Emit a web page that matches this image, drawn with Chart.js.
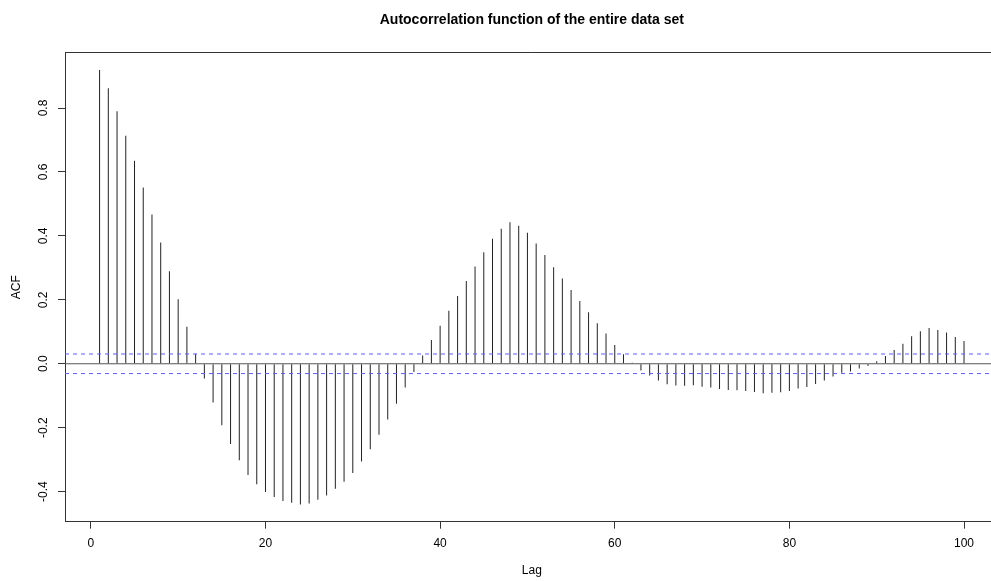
<!DOCTYPE html>
<html><head><meta charset="utf-8">
<script src="https://cdn.jsdelivr.net/npm/chart.js@4"></script>
<style>
html,body{margin:0;padding:0;overflow:hidden;background:#fff;width:991px;height:581px}
canvas{position:absolute;left:0;top:0}
</style></head>
<body>
<canvas id="c" width="1064" height="581"></canvas>
<script>
// ---- data ----
const lags = [1,2,3,4,5,6,7,8,9,10,11,12,13,14,15,16,17,18,19,20,
  21,22,23,24,25,26,27,28,29,30,31,32,33,34,35,36,37,38,39,40,
  41,42,43,44,45,46,47,48,49,50,51,52,53,54,55,56,57,58,59,60,
  61,62,63,64,65,66,67,68,69,70,71,72,73,74,75,76,77,78,79,80,
  81,82,83,84,85,86,87,88,89,90,91,92,93,94,95,96,97,98,99,100];
const acfValues = [0.919,0.862,0.790,0.713,0.635,0.551,0.467,0.379,0.289,0.202,
  0.116,0.031,-0.046,-0.121,-0.192,-0.251,-0.302,-0.348,-0.377,-0.401,
  -0.417,-0.429,-0.435,-0.440,-0.437,-0.425,-0.412,-0.391,-0.369,-0.342,
  -0.306,-0.267,-0.222,-0.174,-0.125,-0.074,-0.026,0.026,0.074,0.119,
  0.166,0.212,0.259,0.304,0.349,0.391,0.422,0.443,0.432,0.410,
  0.376,0.340,0.302,0.267,0.231,0.196,0.161,0.127,0.095,0.059,
  0.030,0.003,-0.021,-0.037,-0.052,-0.064,-0.068,-0.069,-0.067,-0.072,
  -0.074,-0.079,-0.082,-0.083,-0.085,-0.088,-0.092,-0.091,-0.089,-0.085,
  -0.077,-0.073,-0.063,-0.052,-0.040,-0.028,-0.024,-0.015,-0.007,0.008,
  0.024,0.043,0.063,0.086,0.102,0.112,0.106,0.098,0.084,0.071];
const ciLevel = 0.0306;
const xTicks = [0,20,40,60,80,100];
const yTicks = [-0.4,-0.2,0.0,0.2,0.4,0.6,0.8];
const xRange = [-2.96, 103.96];
const yRange = [-0.494, 0.973];
const titleText = 'Autocorrelation function of the entire data set';
const xLabel = 'Lag';
const yLabel = 'ACF';

const FONT = '"Liberation Sans", Arial, Helvetica, sans-serif';

const barData = lags.map((l,i)=>({x:l, y:acfValues[i]}));
const hLine = v => [{x:xRange[0], y:v},{x:xRange[1], y:v}];
// both confidence bounds in one dataset, separated by a gap
const ciData = [...hLine(ciLevel), {x:xRange[1], y:null}, ...hLine(-ciLevel)];

const boxPlugin = {
  id:'boxPlugin',
  afterDraw(chart){
    const {ctx, chartArea:a, scales:{y}} = chart;
    ctx.save();
    ctx.strokeStyle = '#333';
    ctx.lineWidth = 1;
    const ty = Math.floor(a.top) + 0.5;
    const rx = Math.floor(a.right) - 0.5;
    ctx.beginPath();
    ctx.moveTo(a.left, ty); ctx.lineTo(a.right, ty);
    ctx.moveTo(rx, a.top); ctx.lineTo(rx, a.bottom);
    ctx.stroke();
    ctx.font = '12px ' + FONT;
    ctx.fillStyle = '#000';
    ctx.textAlign = 'center';
    ctx.textBaseline = 'middle';
    yTicks.forEach(v=>{
      const py = y.getPixelForValue(v);
      ctx.save(); ctx.translate(44, py); ctx.rotate(-Math.PI/2);
      ctx.fillText(v.toFixed(1), 0, 0);
      ctx.restore();
    });
    ctx.restore();
  }
};

new Chart(document.getElementById('c'), {
  type:'bar',
  data: {
    datasets: [
      {type:'bar', data: barData, backgroundColor:'#222', borderWidth:0,
       barThickness:1, inflateAmount:0, grouped:false, order:2},
      {type:'line', data: hLine(0), borderColor:'#555', borderWidth:1,
       pointRadius:0, order:1},
      {type:'line', data: ciData, borderColor:'#5c5cff', borderWidth:1,
       borderDash:[4,4], pointRadius:0, spanGaps:false, order:0}
    ]
  },
  options: {
    responsive:false, animation:false, devicePixelRatio:1,
    layout:{padding:{left:0, right:65.4, top:0, bottom:0}},
    plugins:{
      legend:{display:false}, tooltip:{enabled:false},
      title:{display:true, text:titleText, fullSize:false, color:'#000',
        font:{family:FONT, size:14, weight:'bold'},
        padding:{top:12, bottom:23.9}}
    },
    scales:{
      x:{type:'linear', min:xRange[0], max:xRange[1], offset:false,
        afterFit(s){ s.height = 59.3; },
        afterBuildTicks(s){ s.ticks = xTicks.map(v=>({value:v})); },
        grid:{offset:false, drawOnChartArea:false, drawTicks:true, tickLength:7, color:'#333'},
        border:{display:true, color:'#333', width:1},
        ticks:{font:{family:FONT, size:12}, color:'#000', padding:8, maxRotation:0},
        title:{display:true, text:xLabel, color:'#000', font:{family:FONT, size:12},
          padding:{top:0, bottom:3}}
      },
      y:{type:'linear', min:yRange[0], max:yRange[1],
        afterFit(s){ s.width = 65; },
        afterBuildTicks(s){ s.ticks = yTicks.map(v=>({value:v})); },
        grid:{drawOnChartArea:false, drawTicks:true, tickLength:7, color:'#333'},
        border:{display:true, color:'#333', width:1},
        ticks:{display:false},
        title:{display:true, text:yLabel, color:'#000', font:{family:FONT, size:12},
          padding:{top:9, bottom:0}}
      }
    }
  },
  plugins:[boxPlugin]
});
</script>
</body></html>
